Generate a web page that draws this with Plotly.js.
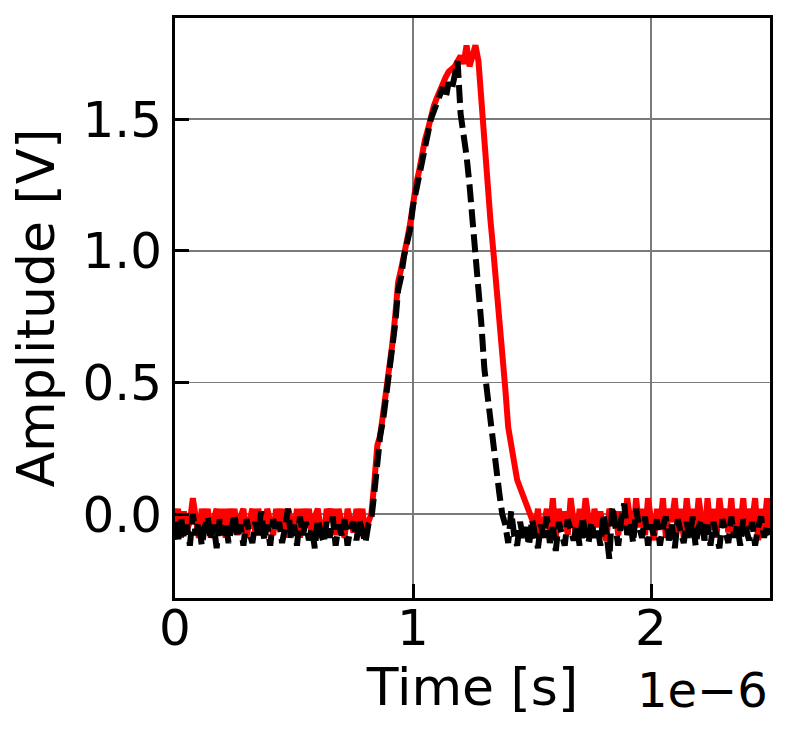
<!DOCTYPE html>
<html>
<head>
<meta charset="utf-8">
<script src="https://cdn.plot.ly/plotly-3.0.1.min.js"></script>
<style>
  html, body { margin: 0; padding: 0; background: #fff; }
  #chart { width: 790px; height: 741px; }
</style>
</head>
<body>
<div id="chart"></div>
<script>
// sample spacing of the scope traces (s)
const dt = 12.5e-9;

// red trace: baseline before pulse, pulse, baseline after
const redPre = [
    -0.05, 0.02, -0.09, 0.01, -0.06, -0.03, 0.06, -0.04, -0.09, 0.02,
    -0.06, 0.02, -0.09, -0.02, 0.02, -0.07, 0.02, -0.09, 0.02, -0.05,
    0.02, -0.08, -0.01, 0.02, -0.09, -0.03, 0.02, -0.07, 0.02, -0.05,
    -0.09, 0.02, -0.02, -0.08, 0.02, -0.06, 0.02, -0.09, 0.02, -0.04,
    -0.07, 0.02, -0.09, 0.02, -0.05, 0.02, -0.08, -0.01, 0.02, -0.06,
    -0.09, 0.02, -0.03, 0.02, -0.08, 0.02, -0.05, -0.09, 0.02, -0.02,
    -0.07, 0.02, -0.06, 0.02, -0.09, -0.03
];
const redPulse = [
    0.00, 0.12, 0.26, 0.30, 0.38, 0.45, 0.55, 0.64, 0.75, 0.88,
    0.93, 1.00, 1.04, 1.10, 1.20, 1.25, 1.30, 1.37, 1.42, 1.46,
    1.52, 1.55, 1.58, 1.61, 1.64, 1.66, 1.68, 1.69, 1.70, 1.72,
    1.74, 1.71, 1.78, 1.70, 1.74, 1.78, 1.72, 1.55, 1.45, 1.25,
    1.12, 1.00, 0.88, 0.72, 0.58, 0.48, 0.33, 0.25, 0.18, 0.13,
    0.10, 0.07, 0.05, 0.02, -0.02
];
const redPost = [
    -0.06, 0.02, -0.09, -0.03, 0.02, -0.07, 0.06, -0.09, 0.02, -0.05,
    0.01, -0.08, 0.06, -0.03, -0.09, 0.02, -0.06, 0.06, -0.02, -0.09,
    0.02, -0.05, 0.01, -0.07, -0.10, 0.02, -0.03, 0.01, -0.08, 0.01,
    -0.06, 0.06, -0.02, -0.09, 0.06, -0.05, 0.02, -0.08, 0.06, -0.03,
    -0.10, 0.02, -0.06, 0.06, -0.09, 0.02, -0.03, 0.06, -0.07, 0.02,
    -0.09, 0.06, -0.05, 0.02, -0.08, 0.06, -0.02, -0.10, 0.06, -0.06,
    0.02, -0.09, 0.06, -0.03, 0.02, -0.07, 0.06, -0.09, 0.02, -0.05,
    0.06, -0.08, 0.02, -0.03, 0.06, -0.10, 0.02, -0.06, 0.06, -0.07
];

// black dashed trace
const blackPre = [
    -0.03, -0.11, -0.01, -0.09, -0.04, -0.12, 0.00, -0.08, -0.03, -0.12,
    -0.05, -0.01, -0.10, -0.04, -0.13, -0.02, -0.08, -0.03, -0.11, -0.05,
    0.00, -0.09, -0.04, -0.12, -0.02, -0.07, -0.11, -0.03, -0.08, 0.01,
    -0.10, -0.04, -0.12, -0.02, -0.07, -0.03, -0.11, -0.05, 0.02, -0.09,
    -0.04, -0.12, -0.01, -0.08, -0.03, -0.10, -0.05, -0.13, -0.02, -0.07,
    -0.11, -0.03, -0.09, -0.01, -0.12, -0.04, -0.08, -0.02, -0.12, -0.05,
    -0.03, -0.10, -0.02, -0.07, -0.11, -0.04
];
const blackPulse = [
    -0.02, 0.08, 0.22, 0.30, 0.36, 0.44, 0.54, 0.62, 0.72, 0.85,
    0.90, 0.98, 1.03, 1.08, 1.17, 1.23, 1.28, 1.35, 1.40, 1.44,
    1.50, 1.53, 1.56, 1.59, 1.62, 1.58, 1.64, 1.61, 1.66, 1.72,
    1.52, 1.45, 1.36, 1.25, 1.12, 1.02, 0.88, 0.72, 0.55, 0.45,
    0.38, 0.28, 0.20, 0.08, 0.00
];
const blackPost = [
    -0.04, -0.11, 0.01, -0.08, -0.12, -0.03, -0.09, -0.05, -0.12, -0.02,
    -0.07, -0.13, -0.04, -0.09, -0.01, -0.11, -0.05, -0.14, -0.03, -0.08,
    -0.12, -0.02, -0.07, -0.10, -0.04, -0.12, -0.01, -0.08, -0.11, -0.03,
    -0.09, -0.05, -0.12, 0.00, -0.07, -0.17, 0.03, -0.04, -0.12, -0.02,
    0.04, -0.08, -0.03, -0.11, 0.02, -0.05, -0.09, -0.01, -0.12, -0.04,
    -0.08, -0.02, -0.12, -0.05, -0.01, -0.10, -0.04, -0.13, -0.02, -0.07,
    -0.11, -0.03, -0.09, -0.01, -0.12, -0.05, -0.02, -0.10, -0.04, -0.12,
    -0.03, -0.08, -0.13, -0.02, -0.07, -0.11, -0.01, -0.09, -0.04, -0.12,
    -0.02, -0.07, -0.10, -0.03, -0.12, -0.05, -0.01, -0.09, -0.04, -0.08
];

const xTickVals = [0, 1e-6, 2e-6];
const xTickText = ['0', '1', '2'];
const yTickVals = [0, 0.5, 1.0, 1.5];
const yTickText = ['0.0', '0.5', '1.0', '1.5'];

const redY = redPre.concat(redPulse, redPost);
const blackY = blackPre.concat(blackPulse, blackPost);
const times = n => Array.from({ length: n }, (_, i) => i * dt);

const font = 'DejaVu Sans, sans-serif';

const red = {
    x: times(redY.length),
    y: redY,
    mode: 'lines',
    line: { color: '#ff0000', width: 6 }
};
const black = {
    x: times(blackY.length),
    y: blackY,
    mode: 'lines',
    line: { color: '#000000', width: 6, dash: '18px,7px' }
};

const axisCommon = {
    showline: true,
    mirror: true,
    linecolor: '#000',
    linewidth: 3,
    ticks: 'inside',
    ticklen: 14,
    tickwidth: 3,
    tickcolor: '#000',
    showgrid: true,
    gridcolor: '#7a7a7a',
    gridwidth: 1.6,
    zeroline: false,
    tickfont: { family: font, size: 50, color: '#000' }
};

const layout = {
    width: 790,
    height: 741,
    margin: { l: 175, r: 20, t: 18, b: 143 },
    paper_bgcolor: '#fff',
    plot_bgcolor: '#fff',
    showlegend: false,
    xaxis: Object.assign({}, axisCommon, {
        range: [0, 2.5e-6],
        tickmode: 'array',
        tickvals: xTickVals,
        ticktext: xTickText,
        ticklabelstandoff: -16,
        title: { text: 'Time [s]', font: { family: font, size: 52, color: '#000' }, standoff: 10 }
    }),
    yaxis: Object.assign({}, axisCommon, {
        range: [-0.319, 1.884],
        tickmode: 'array',
        tickvals: yTickVals,
        ticktext: yTickText,
        title: { text: 'Amplitude [V]', font: { family: font, size: 52, color: '#000' }, standoff: 12 }
    }),
    annotations: [{
        text: '1e\u22126',
        xref: 'paper', yref: 'paper',
        x: 1, y: 0,
        xanchor: 'right', yanchor: 'top',
        yshift: -62,
        showarrow: false,
        font: { family: font, size: 48, color: '#000' }
    }]
};

Plotly.newPlot('chart', [red, black], layout, { displayModeBar: false, staticPlot: true });
</script>
</body>
</html>
